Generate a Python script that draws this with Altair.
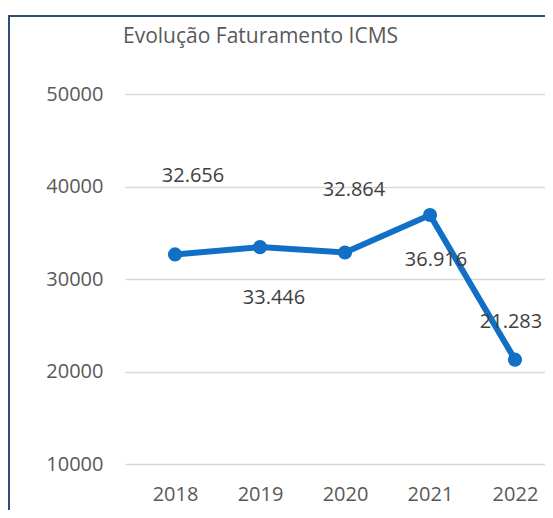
import altair as alt
import pandas as pd

years = ["2018", "2019", "2020", "2021", "2022"]
values = [32656, 33446, 32864, 36916, 21283]
labels = ["32.656", "33.446", "32.864", "36.916", "21.283"]
y_ticks = [10000, 20000, 30000, 40000, 50000]
title_text = "Evolução Faturamento ICMS"

# label placement (pixel offsets from each point), layout only
label_dx = [18, 14, 9, 6, -4]
label_dy = [-78, 51, -63, 45, -38]

df = pd.DataFrame({"year": years, "value": values, "label": labels})

W, H = 420, 370
FONT = "Open Sans"
BLUE = "#1170C6"

x = alt.X("year:N", sort=years,
          scale=alt.Scale(type="point", padding=0.4706, align=0.625),
          axis=alt.Axis(title=None, labelAngle=0, ticks=False, domain=False, grid=False,
                        labelFont=FONT, labelFontSize=20, labelColor="#595959",
                        labelPadding=20))
y = alt.Y("value:Q",
          scale=alt.Scale(domain=[10000, 50000], nice=False, zero=False),
          axis=alt.Axis(title=None, values=y_ticks, format="d", ticks=False, domain=False,
                        grid=True, gridColor="#D9D9D9", gridWidth=1.5,
                        labelFont=FONT, labelFontSize=20, labelColor="#595959",
                        labelPadding=22))

base = alt.Chart(df)
line = base.mark_line(color=BLUE, strokeWidth=6).encode(x=x, y=y)
pts = base.mark_point(filled=True, opacity=1, color=BLUE, size=200).encode(x=x, y=y)

texts = []
for yr, dx, dy in zip(years, label_dx, label_dy):
    texts.append(
        base.transform_filter(alt.datum.year == yr)
        .mark_text(font=FONT, fontSize=20, color="#404040", dx=dx, dy=dy)
        .encode(x=alt.X("year:N", sort=years), y="value:Q", text="label:N")
    )

one = alt.Data(values=[{"k": 1}])
title = alt.Chart(one).mark_text(font=FONT, fontSize=21, color="#595959", align="left",
                                 baseline="middle").encode(
    x=alt.value(-2), y=alt.value(-57), text=alt.value(title_text))
border_left = alt.Chart(one).mark_rule(color="#2E4D7B", strokeWidth=2).encode(
    x=alt.value(-116), y=alt.value(-78), y2=alt.value(H + 60))
border_top = alt.Chart(one).mark_rule(color="#2E4D7B", strokeWidth=2).encode(
    x=alt.value(-117), x2=alt.value(W + 10), y=alt.value(-78))

chart = alt.layer(line, pts, *texts, title, border_left, border_top).properties(
    width=W, height=H,
    padding={"left": 117, "top": 86, "right": 0, "bottom": 46},
    autosize=alt.AutoSizeParams(type="none"),
).configure_view(stroke=None)

chart.save("out.html", embed_options={"renderer": "svg", "actions": False})
